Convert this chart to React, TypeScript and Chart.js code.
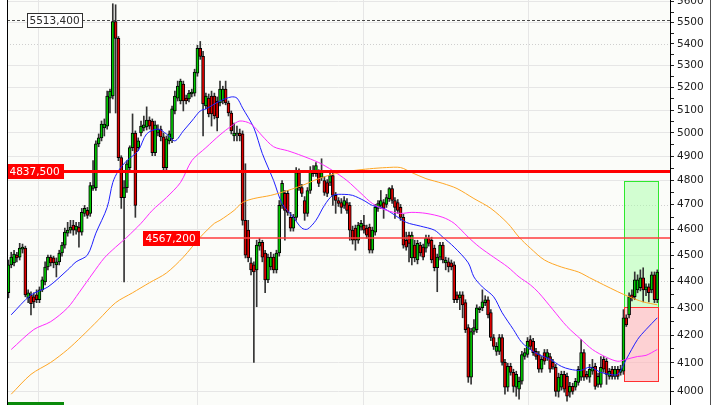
import React, { useEffect, useRef } from 'react';
import { Chart, registerables } from 'chart.js';

Chart.register(...registerables);

// ---- candle data (O/H/L/C) ----
const opens = [
  4356, 4462, 4470, 4500, 4492, 4523, 4527, 4337, 4348, 4341, 4348, 4330, 4367, 4397, 4454, 4492, 4489, 4462, 4474, 4508,
  4539, 4586, 4598, 4618, 4598, 4610, 4590, 4665, 4677, 4665, 4766, 4770, 4953, 4979, 5022, 5030, 5153, 5162, 5505, 5425,
  4895, 4729, 4770, 4853, 4937, 5000, 4937, 5000, 5022, 5026, 5056, 5052, 4916, 5000, 5017, 4983, 4853, 4966, 4975, 5096,
  5153, 5140, 5215, 5153, 5149, 5171, 5175, 5265, 5379, 5342, 5118, 5153, 5162, 5162, 5140, 5131, 5140, 5193, 5131, 5087,
  4987, 4996, 5000, 4996, 4637, 4598, 4470, 4462, 4443, 4535, 4550, 4508, 4405, 4454, 4492, 4443, 4508, 4697, 4746, 4746,
  4649, 4606, 4649, 4832, 4770, 4717, 4665, 4758, 4828, 4828, 4832, 4812, 4799, 4791, 4791, 4820, 4738, 4717, 4709, 4697,
  4709, 4697, 4598, 4606, 4558, 4610, 4618, 4606, 4610, 4519, 4590, 4685, 4697, 4709, 4701, 4725, 4766, 4717, 4709, 4689,
  4649, 4558, 4578, 4489, 4539, 4481, 4539, 4531, 4527, 4566, 4558, 4527, 4451, 4492, 4539, 4470, 4474, 4470, 4462, 4348,
  4337, 4348, 4319, 4227, 4050, 4213, 4220, 4293, 4300, 4319, 4330, 4282, 4191, 4141, 4141, 4191, 4102, 4015, 4088, 4067,
  4015, 4008, 4036, 4123, 4130, 4184, 4177, 4141, 4130, 4078, 4137, 4120, 4123, 4102, 4085, 4001, 4015, 4060, 4053, 3998,
  4018, 4015, 4032, 4050, 4137, 4060, 4050, 4071, 4088, 4025, 4025, 4113, 4106, 4053, 4078, 4053, 4078, 4067, 4071, 4263,
  4274, 4348, 4341, 4367, 4375, 4413, 4367, 4378, 4367, 4424, 4330,
];
const highs = [
  4481, 4511, 4519, 4511, 4546, 4543, 4535, 4367, 4360, 4356, 4367, 4378, 4416, 4474, 4500, 4500, 4496, 4489, 4519, 4550,
  4606, 4629, 4637, 4637, 4629, 4629, 4685, 4697, 4689, 4791, 4882, 4966, 4996, 5052, 5061, 5184, 5193, 5590, 5585, 5434,
  4903, 4799, 4882, 4945, 5083, 5009, 4979, 5052, 5074, 5114, 5070, 5061, 5052, 5035, 5030, 5000, 4987, 5009, 5118, 5184,
  5229, 5238, 5229, 5166, 5188, 5193, 5283, 5393, 5411, 5365, 5175, 5171, 5184, 5175, 5158, 5229, 5206, 5229, 5140, 5096,
  5043, 5030, 5017, 5009, 4869, 4637, 4489, 4474, 4558, 4566, 4558, 4519, 4504, 4511, 4504, 4519, 4717, 4799, 4758, 4758,
  4669, 4661, 4853, 4848, 4783, 4733, 4770, 4857, 4861, 4874, 4844, 4890, 4816, 4803, 4832, 4832, 4750, 4729, 4725, 4733,
  4725, 4709, 4614, 4618, 4629, 4637, 4657, 4618, 4622, 4610, 4701, 4717, 4758, 4721, 4742, 4770, 4778, 4729, 4721, 4701,
  4661, 4590, 4590, 4590, 4558, 4558, 4550, 4543, 4578, 4578, 4570, 4539, 4504, 4550, 4550, 4492, 4489, 4481, 4474, 4360,
  4360, 4360, 4330, 4238, 4224, 4256, 4311, 4304, 4367, 4345, 4341, 4293, 4202, 4173, 4202, 4202, 4113, 4099, 4099, 4078,
  4071, 4050, 4141, 4152, 4191, 4198, 4188, 4152, 4141, 4123, 4148, 4148, 4134, 4113, 4095, 4064, 4071, 4071, 4064, 4032,
  4029, 4046, 4088, 4184, 4148, 4071, 4095, 4113, 4099, 4064, 4123, 4123, 4116, 4081, 4088, 4088, 4088, 4092, 4293, 4274,
  4356, 4367, 4435, 4424, 4443, 4451, 4390, 4390, 4435, 4435, 4443,
];
const lows = [
  4337, 4451, 4458, 4474, 4481, 4508, 4341, 4319, 4274, 4300, 4319, 4319, 4360, 4386, 4443, 4458, 4451, 4416, 4462, 4496,
  4527, 4574, 4586, 4578, 4582, 4531, 4578, 4653, 4645, 4653, 4758, 4758, 4941, 4966, 4987, 5017, 5087, 5149, 5087, 4882,
  4685, 4397, 4750, 4840, 4924, 4649, 4924, 4987, 5009, 5013, 5017, 4903, 4903, 4987, 4966, 4840, 4840, 4953, 4958, 5083,
  5140, 5127, 5096, 5127, 5136, 5158, 5162, 5251, 5328, 4987, 5105, 5070, 5030, 5061, 5009, 5118, 5127, 5123, 5074, 4996,
  4966, 4966, 4966, 4618, 4489, 4474, 4424, 4102, 4304, 4519, 4474, 4356, 4394, 4443, 4431, 4431, 4496, 4685, 4558, 4657,
  4594, 4594, 4637, 4758, 4733, 4637, 4653, 4746, 4816, 4816, 4774, 4799, 4738, 4733, 4778, 4697, 4665, 4693, 4665, 4685,
  4665, 4558, 4543, 4519, 4546, 4598, 4586, 4566, 4508, 4508, 4578, 4673, 4685, 4645, 4689, 4713, 4705, 4645, 4665, 4637,
  4527, 4519, 4474, 4462, 4474, 4466, 4496, 4481, 4511, 4535, 4470, 4439, 4360, 4481, 4470, 4443, 4435, 4443, 4319, 4319,
  4293, 4263, 4209, 4032, 4026, 4202, 4209, 4282, 4289, 4308, 4263, 4180, 4148, 4127, 4130, 4092, 3991, 4001, 4057, 3998,
  3984, 3974, 4026, 4113, 4120, 4148, 4127, 4113, 4067, 4067, 4095, 4109, 4067, 4078, 3984, 3981, 4005, 3998, 3967, 3981,
  3991, 4005, 4022, 4039, 4039, 4043, 4032, 4060, 4008, 4015, 4015, 4067, 4025, 4043, 4043, 4043, 4043, 4057, 4060, 4231,
  4263, 4326, 4330, 4356, 4363, 4322, 4345, 4322, 4356, 4319, 4319,
];
const closes = [
  4462, 4492, 4504, 4489, 4527, 4531, 4348, 4356, 4315, 4322, 4330, 4367, 4405, 4454, 4492, 4470, 4470, 4474, 4508, 4539,
  4590, 4598, 4610, 4598, 4614, 4590, 4669, 4685, 4657, 4778, 4778, 4953, 4979, 5039, 5039, 5162, 5184, 5505, 5425, 4895,
  4729, 4770, 4869, 4937, 5000, 4697, 4966, 5030, 5035, 5056, 5030, 4916, 5035, 5017, 4983, 4853, 4975, 4996, 5105, 5162,
  5206, 5229, 5140, 5140, 5175, 5180, 5270, 5379, 5342, 5127, 5162, 5083, 5083, 5074, 5065, 5193, 5193, 5131, 5087, 5009,
  5000, 5000, 4987, 4637, 4500, 4489, 4443, 4435, 4539, 4550, 4492, 4405, 4492, 4492, 4443, 4508, 4697, 4787, 4677, 4669,
  4606, 4649, 4832, 4770, 4746, 4665, 4758, 4840, 4840, 4861, 4787, 4832, 4750, 4746, 4820, 4738, 4717, 4705, 4689, 4717,
  4677, 4598, 4558, 4558, 4618, 4625, 4598, 4578, 4519, 4598, 4689, 4705, 4717, 4685, 4729, 4766, 4717, 4689, 4677, 4649,
  4539, 4531, 4546, 4578, 4489, 4546, 4508, 4492, 4566, 4546, 4481, 4451, 4492, 4539, 4481, 4481, 4454, 4454, 4330, 4330,
  4348, 4311, 4220, 4050, 4213, 4227, 4300, 4300, 4322, 4330, 4274, 4191, 4159, 4159, 4191, 4102, 4015, 4088, 4067, 4018,
  4060, 4036, 4130, 4137, 4177, 4159, 4137, 4123, 4078, 4113, 4106, 4137, 4078, 4085, 4001, 4050, 4060, 4008, 3984, 4018,
  4001, 4036, 4078, 4137, 4050, 4050, 4078, 4085, 4018, 4053, 4085, 4078, 4060, 4071, 4053, 4078, 4053, 4078, 4263, 4237,
  4341, 4337, 4405, 4405, 4413, 4367, 4378, 4356, 4424, 4330, 4435,
];
const emptySlots = 4;

// ---- moving averages (bar index -> value) ----
const blueIdx = [1, 8, 14, 21, 24, 28, 31, 35, 37, 39, 42, 46, 49, 53, 56, 59, 62, 65, 68, 70, 75, 79, 81, 83, 87, 90, 94, 97, 101, 104, 106, 109, 112, 115, 119, 122, 126, 129, 133, 136, 141, 146, 151, 154, 158, 163, 165, 168, 172, 175, 179, 182, 186, 188, 192, 196, 199, 203, 206, 210, 213, 216, 219, 223, 226, 230];
const blueVal = [4274, 4348, 4378, 4443, 4474, 4500, 4586, 4689, 4791, 4840, 4882, 4924, 4996, 5017, 4996, 4966, 5009, 5052, 5096, 5105, 5140, 5158, 5153, 5109, 5022, 4912, 4799, 4705, 4649, 4606, 4602, 4637, 4697, 4738, 4742, 4738, 4717, 4697, 4685, 4665, 4629, 4614, 4598, 4570, 4531, 4470, 4416, 4378, 4341, 4282, 4220, 4173, 4141, 4130, 4113, 4088, 4078, 4074, 4085, 4067, 4060, 4060, 4113, 4184, 4220, 4263];
const pinkIdx = [1, 9, 15, 21, 25, 30, 34, 38, 42, 47, 51, 56, 61, 65, 70, 75, 79, 82, 86, 90, 94, 99, 104, 110, 115, 120, 125, 129, 134, 139, 143, 148, 154, 158, 163, 167, 172, 177, 181, 185, 188, 193, 198, 203, 207, 212, 216, 219, 223, 226, 230];
const pinkVal = [4148, 4220, 4249, 4300, 4356, 4431, 4489, 4531, 4570, 4625, 4677, 4729, 4791, 4882, 4937, 4992, 5030, 5052, 5039, 4987, 4941, 4924, 4903, 4874, 4840, 4799, 4746, 4705, 4677, 4665, 4669, 4665, 4649, 4625, 4570, 4531, 4492, 4454, 4416, 4386, 4356, 4293, 4231, 4184, 4148, 4120, 4106, 4113, 4123, 4127, 4148];
const orangeIdx = [1, 8, 15, 21, 26, 32, 38, 44, 50, 56, 62, 68, 73, 75, 80, 83, 87, 93, 99, 104, 110, 116, 122, 128, 134, 139, 143, 148, 154, 159, 165, 171, 177, 181, 185, 190, 196, 202, 206, 211, 216, 220, 225, 230];
const orangeVal = [3991, 4060, 4102, 4148, 4195, 4256, 4319, 4356, 4394, 4431, 4492, 4570, 4625, 4637, 4677, 4709, 4725, 4738, 4758, 4778, 4807, 4828, 4840, 4848, 4853, 4853, 4832, 4807, 4787, 4766, 4725, 4685, 4625, 4570, 4527, 4481, 4454, 4435, 4413, 4386, 4360, 4341, 4322, 4311];

// ---- axis ----
const yMin = 3954;
const yMax = 5608;
const yTickValues = [4000, 4050, 4100, 4150, 4200, 4250, 4300, 4350, 4400, 4450, 4500, 4550, 4600, 4650, 4700, 4750, 4800, 4850, 4900, 4950, 5000, 5050, 5100, 5150, 5200, 5250, 5300, 5350, 5400, 5450, 5500, 5550, 5600];
const dottedLevels = [5400, 4700, 4400];
const timeGridIdx = [10.5, 66.9, 125.7, 184.2];

// ---- objects on the chart ----
const levelValues = [5513.4, 4837.5, 4567.2];
const levelTexts = ['5513,400', '4837,500', '4567,200'];
const bottomLabelValue = 3942;
const zoneFrom = 218.3;
const zoneTo = 230.4;
const greenZone = [4304, 4799];
const redZone = [4038, 4304];

const FONT = '10.5px "DejaVu Sans"';

const overlay = {
  id: 'overlay',
  beforeDraw(chart: any) {
    const { ctx, chartArea: a } = chart;
    ctx.save();
    ctx.fillStyle = '#ffffff';
    ctx.fillRect(0, 0, chart.width, chart.height);
    ctx.fillStyle = '#fbfcf9';
    ctx.fillRect(a.left, a.top, a.right - a.left, a.bottom - a.top);
    ctx.restore();
  },
  beforeDatasetsDraw(chart: any) {
    const { ctx, chartArea: a, scales } = chart;
    const x = scales.x, y = scales.y;
    ctx.save();
    ctx.lineWidth = 1;
    ctx.strokeStyle = '#e6e6e6';
    timeGridIdx.forEach((i) => {
      const px = Math.round(x.getPixelForValue(i)) + 0.5;
      ctx.beginPath(); ctx.moveTo(px, a.top); ctx.lineTo(px, a.bottom); ctx.stroke();
    });
    ctx.setLineDash([1, 2]);
    ctx.strokeStyle = '#cfcfcf';
    dottedLevels.forEach((v) => {
      const py = Math.round(y.getPixelForValue(v)) + 0.5;
      ctx.beginPath(); ctx.moveTo(a.left, py); ctx.lineTo(a.right, py); ctx.stroke();
    });
    ctx.setLineDash([]);
    const x1 = Math.round(x.getPixelForValue(zoneFrom)) + 0.5;
    const x2 = Math.round(x.getPixelForValue(zoneTo)) + 0.5;
    const zones = [
      { r: greenZone, fill: 'rgba(170,255,170,0.5)', stroke: '#2ee82e' },
      { r: redZone, fill: 'rgba(255,180,185,0.6)', stroke: '#ff3030' },
    ];
    zones.forEach((z) => {
      const yt = Math.round(y.getPixelForValue(z.r[1])) + 0.5;
      const yb = Math.round(y.getPixelForValue(z.r[0])) + 0.5;
      ctx.fillStyle = z.fill;
      ctx.fillRect(x1, yt, x2 - x1, yb - yt);
      ctx.strokeStyle = z.stroke;
      ctx.strokeRect(x1, yt, x2 - x1, yb - yt);
    });
    ctx.restore();
  },
  afterDatasetsDraw(chart: any) {
    const { ctx, chartArea: a, scales } = chart;
    const y = scales.y;
    ctx.save();
    const py = levelValues.map((v) => y.getPixelForValue(v));
    // 5513.4 dashed
    ctx.setLineDash([3, 2]);
    ctx.strokeStyle = '#4a4a4a';
    ctx.lineWidth = 1;
    const p0 = Math.round(py[0]) + 0.5;
    ctx.beginPath(); ctx.moveTo(a.left, p0); ctx.lineTo(a.right, p0); ctx.stroke();
    ctx.setLineDash([]);
    // 4837.5 thick red
    ctx.strokeStyle = '#ff0000';
    ctx.lineWidth = 3;
    ctx.beginPath(); ctx.moveTo(a.left, Math.round(py[1]) + 0.5); ctx.lineTo(a.right, Math.round(py[1]) + 0.5); ctx.stroke();
    // 4567.2 thin red
    ctx.strokeStyle = '#ff3c3c';
    ctx.lineWidth = 1.5;
    ctx.beginPath(); ctx.moveTo(143, Math.round(py[2])); ctx.lineTo(a.right, Math.round(py[2])); ctx.stroke();

    const boxes = [
      { left: 27, w: 56, bg: '#ffffff', border: '#303030', color: '#2a2a2a' },
      { left: 7, w: 57, bg: '#ff0000', border: '#ff0000', color: '#ffffff' },
      { left: 143, w: 57, bg: '#ff0000', border: '#ff0000', color: '#ffffff' },
    ];
    ctx.font = FONT;
    ctx.textBaseline = 'middle';
    ctx.textAlign = 'left';
    boxes.forEach((b, i) => {
      const c = Math.round(py[i]);
      const top = c - 7;
      ctx.fillStyle = b.bg;
      ctx.fillRect(b.left, top, b.w, 15);
      ctx.strokeStyle = b.border;
      ctx.lineWidth = 1;
      ctx.strokeRect(b.left + 0.5, top + 0.5, b.w - 1, 14);
      ctx.fillStyle = b.color;
      ctx.fillText(levelTexts[i], b.left + 2.5, c + 1);
    });
    // bottom (cut-off) green label
    const bc = Math.round(y.getPixelForValue(bottomLabelValue));
    ctx.fillStyle = '#0a8a0a';
    ctx.fillRect(7, bc - 7, 57, 15);
    ctx.restore();
  },
  afterDraw(chart: any) {
    const { ctx, chartArea: a } = chart;
    ctx.save();
    ctx.strokeStyle = '#000000';
    ctx.lineWidth = 1;
    ctx.beginPath(); ctx.moveTo(a.left + 0.5, 0); ctx.lineTo(a.left + 0.5, chart.height); ctx.stroke();
    ctx.strokeStyle = '#505050';
    ctx.beginPath(); ctx.moveTo(710.5, 0); ctx.lineTo(710.5, chart.height); ctx.stroke();
    ctx.restore();
  },
};

export default function App() {
  const ref = useRef<HTMLCanvasElement | null>(null);
  useEffect(() => {
    if (!ref.current) return;
    const N = opens.length + emptySlots;
    const labels = Array.from({ length: N }, (_, i) => String(i));
    const sparse = (idx: number[], vals: number[]) => {
      const arr: (number | null)[] = new Array(N).fill(null);
      idx.forEach((k, j) => { arr[k] = vals[j]; });
      return arr;
    };
    const body = opens.map((o, i) => [o, closes[i]]);
    const wick = lows.map((l, i) => [l, highs[i]]);
    const bodyColor = opens.map((o, i) => (closes[i] >= o ? '#00c800' : '#e00000'));
    const lineCommon = { type: 'line', pointRadius: 0, borderWidth: 1, spanGaps: true, tension: 0.3, fill: false, order: 1 };
    const chart = new Chart(ref.current, {
      type: 'bar',
      data: {
        labels,
        datasets: [
          { ...lineCommon, data: sparse(orangeIdx, orangeVal), borderColor: '#ffa726' } as any,
          { ...lineCommon, data: sparse(pinkIdx, pinkVal), borderColor: '#ff2cff' } as any,
          { ...lineCommon, data: sparse(blueIdx, blueVal), borderColor: '#1f1fff' } as any,
          {
            type: 'bar', data: body as any, backgroundColor: bodyColor, borderColor: '#000000', borderWidth: 1,
            borderSkipped: false, barThickness: 3, grouped: false, order: 2,
          } as any,
          {
            type: 'bar', data: wick as any, backgroundColor: '#333333', borderWidth: 0,
            barThickness: 1, grouped: false, order: 3,
          } as any,
        ],
      },
      options: {
        animation: false,
        responsive: false,
        devicePixelRatio: 1,
        layout: { padding: { left: 7, right: 0, top: 0, bottom: 0 } },
        plugins: { legend: { display: false }, tooltip: { enabled: false } },
        scales: {
          x: { type: 'category', display: false, offset: true },
          y: {
            type: 'logarithmic',
            position: 'right',
            min: yMin,
            max: yMax,
            bounds: 'data',
            afterBuildTicks: (s: any) => { s.ticks = yTickValues.map((v) => ({ value: v })); },
            afterFit: (s: any) => { s.width = 50; s.paddingTop = 0; s.paddingBottom = 0; },
            ticks: {
              autoSkip: false,
              padding: 3,
              color: '#1c1c1c',
              font: { family: 'DejaVu Sans', size: 10.5 },
              callback: (v: any) => (Number(v) % 100 === 0 ? String(v) : ''),
            },
            grid: {
              color: (c: any) => {
                const v = c.tick ? c.tick.value : null;
                if (v == null || v % 100 !== 0 || dottedLevels.includes(v)) return 'rgba(0,0,0,0)';
                return '#e6e6e6';
              },
              tickColor: '#222222',
              tickLength: 4,
              lineWidth: 1,
            },
            border: { display: true, color: '#000000', width: 1 },
          } as any,
        },
      },
      plugins: [overlay],
    });
    return () => chart.destroy();
  }, []);
  return (
    <div style={{ position: 'fixed', left: 0, top: 0, width: 720, height: 405, background: '#ffffff' }}>
      <canvas ref={ref} width={720} height={405} style={{ display: 'block' }} />
    </div>
  );
}
